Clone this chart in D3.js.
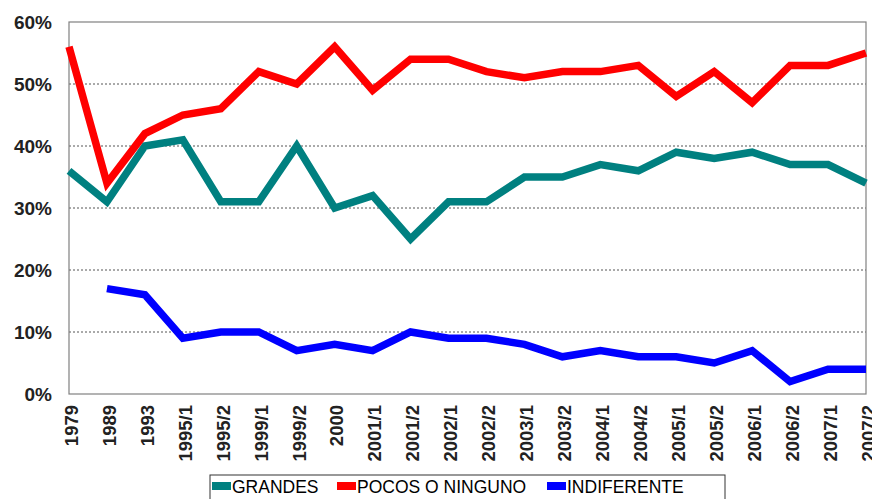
<!DOCTYPE html>
<html><head><meta charset="utf-8">
<script src="https://cdn.jsdelivr.net/npm/d3@7"></script>
<style>body{margin:0;background:#fff}svg{display:block}</style>
</head><body>
<svg id="c" width="872" height="499"></svg>
<script>
const categories = ["1979","1989","1993","1995/1","1995/2","1999/1","1999/2","2000","2001/1","2001/2","2002/1","2002/2","2003/1","2003/2","2004/1","2004/2","2005/1","2005/2","2006/1","2006/2","2007/1","2007/2"];
const grandes = [36,31,40,41,31,31,40,30,32,25,31,31,35,35,37,36,39,38,39,37,37,34];
const pocos = [56,34,42,45,46,52,50,56,49,54,54,52,51,52,52,53,48,52,47,53,53,55];
const indiferente = [null,17,16,9,10,10,7,8,7,10,9,9,8,6,7,6,6,5,7,2,4,4];
const yTicks = [0,10,20,30,40,50,60];
const seriesNames = ["GRANDES","POCOS O NINGUNO","INDIFERENTE"];
const seriesColors = ["#008080","#FF0000","#0000FF"];

const svg = d3.select("#c");
const L = 69, R = 866, T = 22, B = 394;
const FONT = "Liberation Sans, Arial, sans-serif";
const x = d3.scalePoint().domain(categories).range([L, R]);
const y = d3.scaleLinear().domain([0, 60]).range([B, T]);

// gridlines
svg.append("g").selectAll("line").data(yTicks.filter(d => d > 0 && d < 60)).join("line")
  .attr("x1", L).attr("x2", R).attr("y1", d => y(d)).attr("y2", d => y(d))
  .attr("stroke", "#555").attr("stroke-width", 1).attr("stroke-dasharray", "2,2");

// plot border
svg.append("rect").attr("x", L).attr("y", T).attr("width", R - L).attr("height", B - T)
  .attr("fill", "none").attr("stroke", "#808080").attr("stroke-width", 1.2);

// y axis
const yAxis = d3.axisLeft(y).tickValues(yTicks).tickFormat(d => d + "%").tickSize(0).tickPadding(17);
const ya = svg.append("g").attr("transform", `translate(${L},0)`).call(yAxis);
ya.select(".domain").remove();
ya.selectAll("text").attr("font-family", FONT)
  .attr("font-weight", "bold").attr("font-size", 19).attr("fill", "#222");

// x axis
const xAxis = d3.axisBottom(x).tickSize(0).tickPadding(0);
const xa = svg.append("g").attr("transform", `translate(0,${B})`).call(xAxis);
xa.select(".domain").remove();
xa.selectAll("text").attr("font-family", FONT)
  .attr("font-weight", "bold").attr("font-size", 18.5).attr("fill", "#222")
  .attr("text-anchor", "end").attr("dy", "0.45em")
  .attr("transform", "translate(0,11) rotate(-90)").attr("y", 0).attr("x", 0);

// lines
const allSeries = [grandes, pocos, indiferente];
const line = d3.line().defined(d => d.v != null).x(d => x(d.c)).y(d => y(d.v));
allSeries.forEach((s, i) => {
  svg.append("path").datum(categories.map((c, j) => ({c, v: s[j]})))
    .attr("d", line).attr("fill", "none").attr("stroke", seriesColors[i])
    .attr("stroke-width", 7.5).attr("stroke-linejoin", "miter").attr("stroke-linecap", "butt");
});

// legend
const lg = svg.append("g");
lg.append("rect").attr("x", 210).attr("y", 475).attr("width", 515).attr("height", 30)
  .attr("fill", "#fff").attr("stroke", "#333").attr("stroke-width", 1);
const lx = [212, 337, 547];
seriesNames.forEach((n, i) => {
  lg.append("rect").attr("x", lx[i]).attr("y", 482).attr("width", 19).attr("height", 8).attr("fill", seriesColors[i]);
  lg.append("text").attr("x", lx[i] + 20).attr("y", 493).text(n)
    .attr("font-family", FONT).attr("font-size", 17.5).attr("fill", "#000");
});
</script>
</body></html>
